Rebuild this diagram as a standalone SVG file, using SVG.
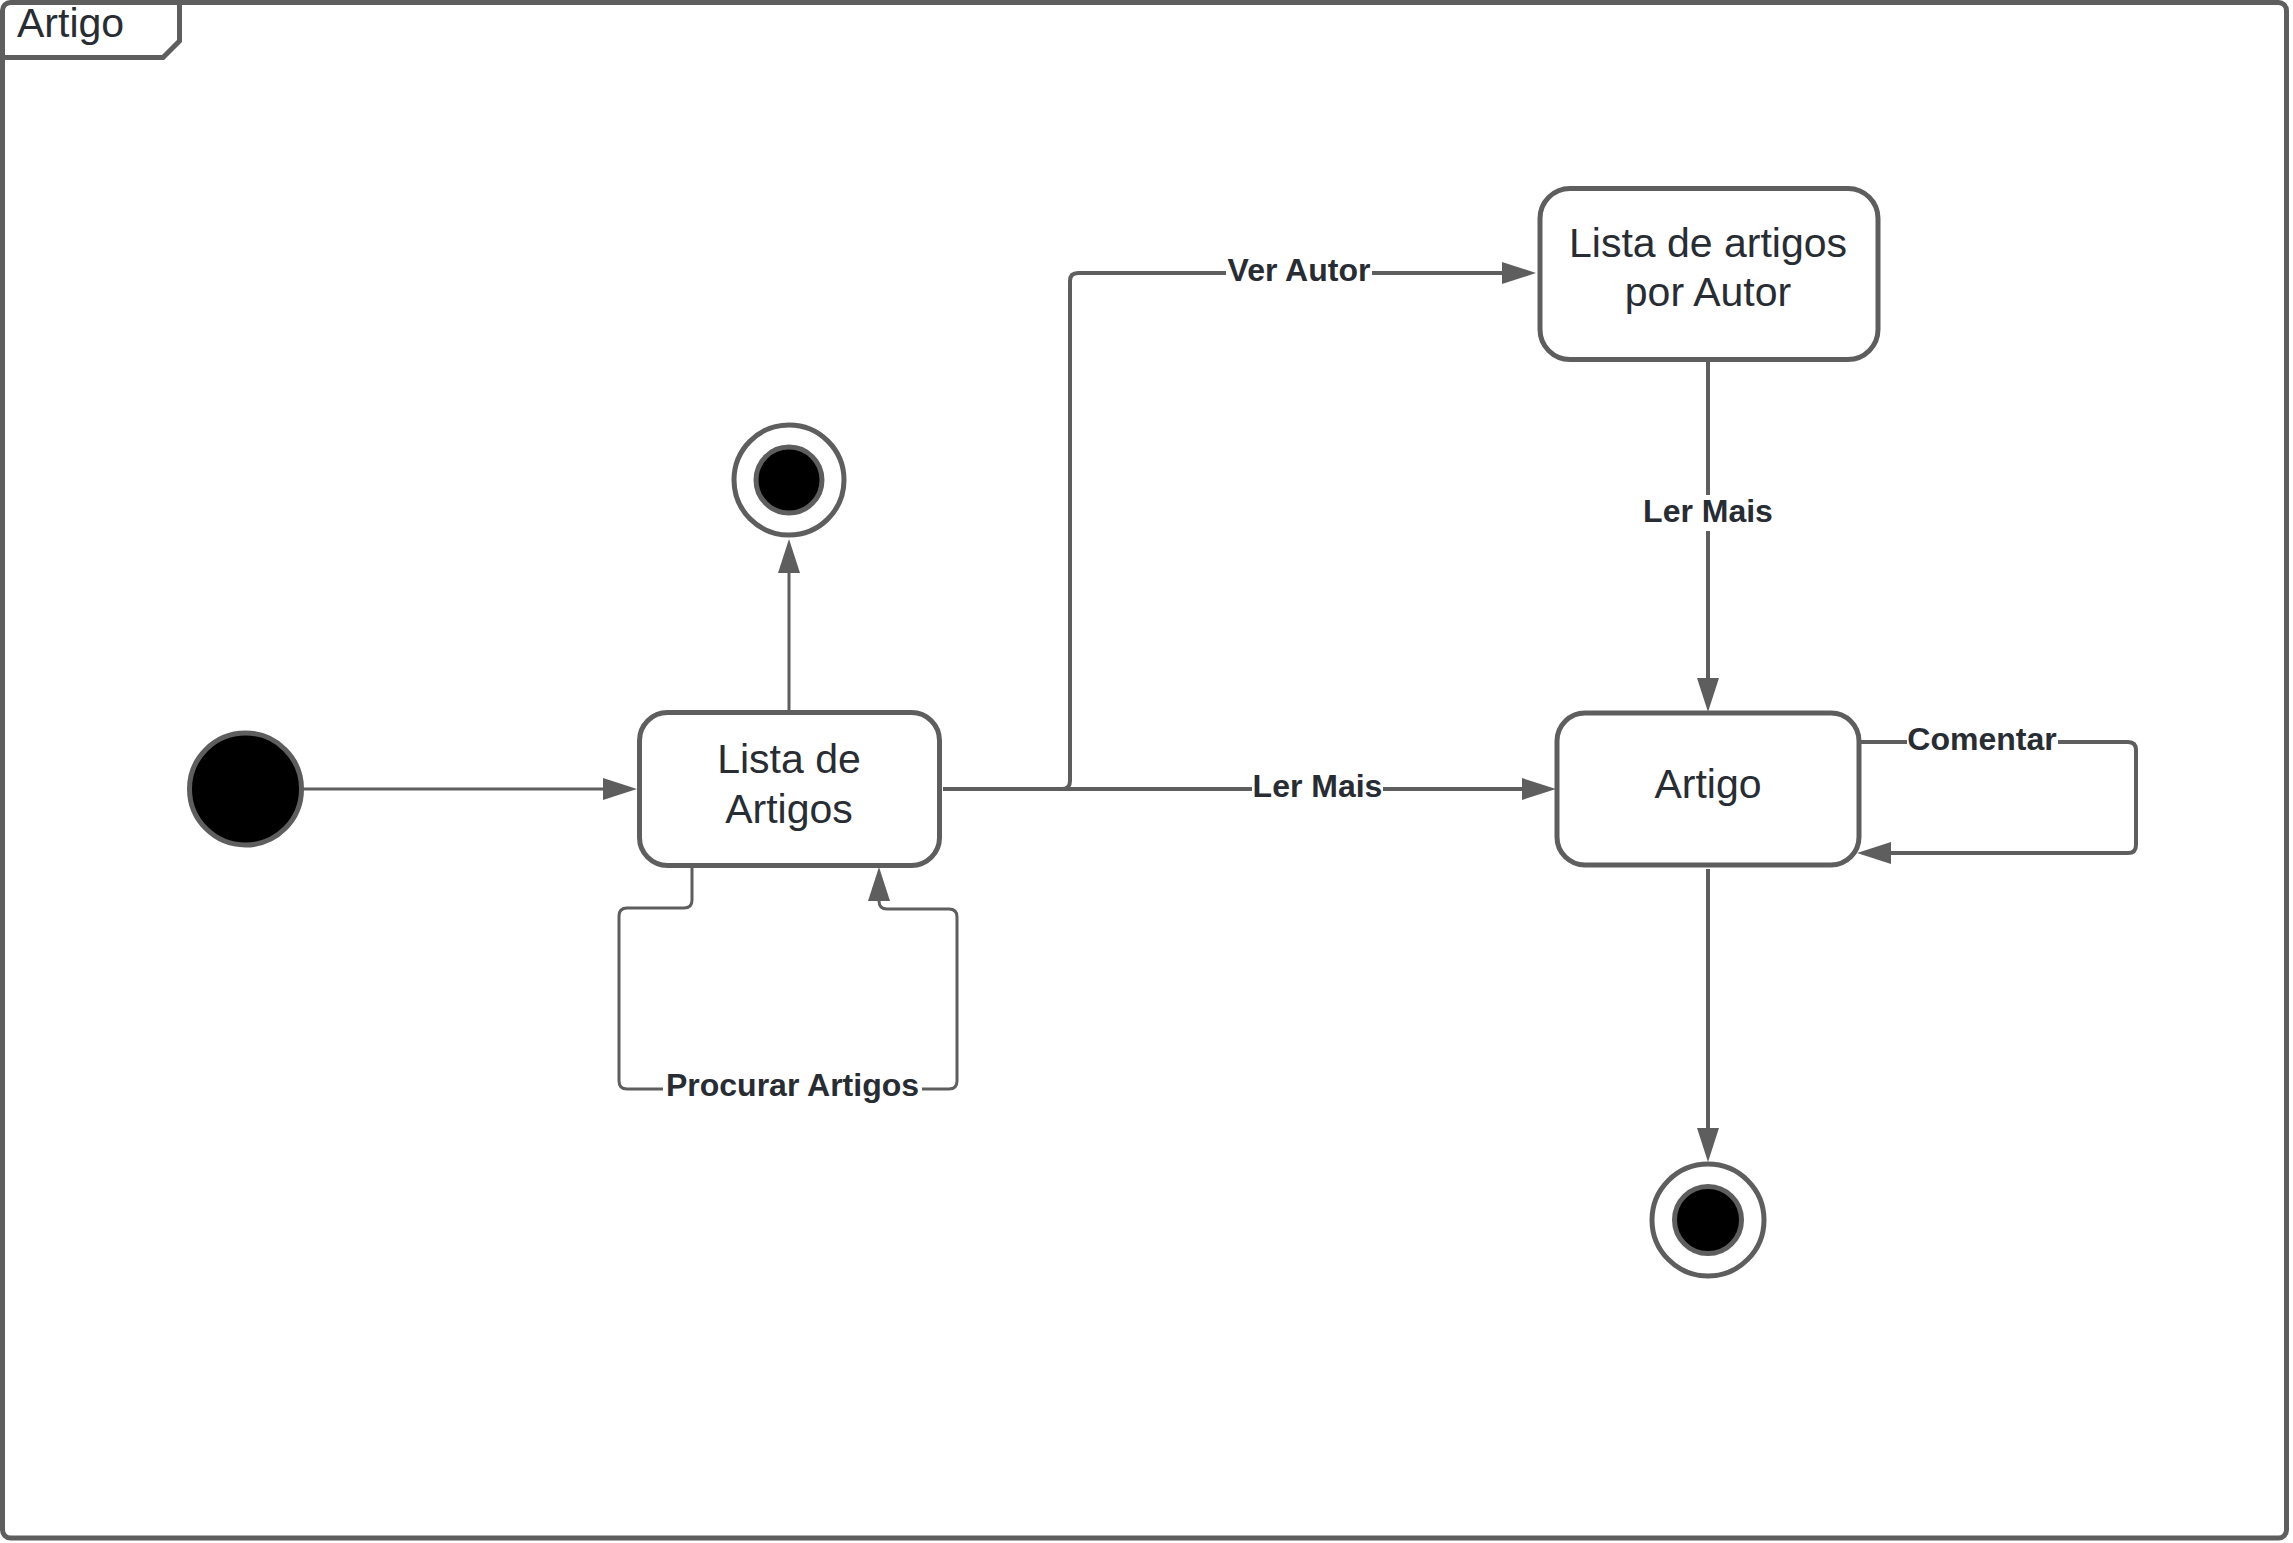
<svg xmlns="http://www.w3.org/2000/svg" width="2293" height="1543" viewBox="0 0 2293 1543">
<style>
.frame{fill:#ffffff;stroke:#5e5e5e;stroke-width:5}
.node{fill:#ffffff;stroke:#5e5e5e;stroke-width:5}
.ntext{font-family:"Liberation Sans",Arial,sans-serif;font-size:41px;fill:#282c33;text-anchor:middle}
.ttext{font-family:"Liberation Sans",Arial,sans-serif;font-size:41px;fill:#282c33}
.lbl{font-family:"Liberation Sans",Arial,sans-serif;font-size:32px;font-weight:bold;fill:#282c33;text-anchor:middle}
.edge{fill:none;stroke:#5e5e5e;stroke-width:4;marker-end:url(#arr)}
.thin{stroke-width:3}
.lblbg{fill:#ffffff}
</style>
<defs>
<marker id="arr" viewBox="0 0 34 22" refX="0" refY="11" markerWidth="34" markerHeight="22" markerUnits="userSpaceOnUse" orient="auto">
<path d="M0,0 L34,11 L0,22 z" fill="#5e5e5e"/>
</marker>
</defs>
<rect width="2293" height="1543" fill="#ffffff"/>
<g id="frame">
<rect class="frame" x="2.5" y="2.5" width="2284" height="1535.5" rx="8"/>
<path d="M3,57.5 L163,57.5 L179.5,41 L179.5,3" fill="none" stroke="#5e5e5e" stroke-width="5"/>
<text class="ttext" x="17" y="37">Artigo</text>
</g>
<g id="connectors">
<path class="edge thin" d="M303,789 L603,789"/>
<path class="edge thin" d="M789,712 L789,573"/>
<path class="edge" d="M943,789 L1062,789 Q1070,789 1070,781 L1070,281 Q1070,273 1078,273 L1502,273"/>
<path class="edge" d="M943,789 L1522,789"/>
<path class="edge" d="M1708,362 L1708,678"/>
<path class="edge" d="M1859,742 L2128,742 Q2136,742 2136,750 L2136,845 Q2136,853 2128,853 L1891,853"/>
<path class="edge thin" d="M692,868 L692,900 Q692,908 684,908 L627,908 Q619,908 619,916 L619,1081 Q619,1089 627,1089 L949,1089 Q957,1089 957,1081 L957,917 Q957,909 949,909 L887,909 Q879,909 879,901"/>
<path class="edge" d="M1708,869 L1708,1128"/>
<rect class="lblbg" x="1226" y="254" width="146" height="36"/>
<text class="lbl" x="1299" y="281">Ver Autor</text>
<rect class="lblbg" x="1252" y="770" width="131" height="36"/>
<text class="lbl" x="1317.5" y="797">Ler Mais</text>
<rect class="lblbg" x="1642" y="495" width="132" height="36"/>
<text class="lbl" x="1708" y="522">Ler Mais</text>
<rect class="lblbg" x="1907" y="723" width="151" height="36"/>
<text class="lbl" x="1982" y="750">Comentar</text>
<rect class="lblbg" x="663" y="1070" width="259" height="36"/>
<text class="lbl" x="792.5" y="1096">Procurar Artigos</text>
</g>
<g id="initial">
<circle cx="245.5" cy="789" r="56" fill="#000000" stroke="#5e5e5e" stroke-width="5"/>
</g>
<g id="lista-de-artigos">
<rect class="node" x="639.5" y="712.5" width="300" height="153" rx="28"/>
<text class="ntext" x="789" y="773">Lista de</text>
<text class="ntext" x="789" y="823">Artigos</text>
</g>
<g id="final-1">
<circle cx="789" cy="480" r="55" fill="#ffffff" stroke="#5e5e5e" stroke-width="5"/>
<circle cx="789" cy="480" r="33" fill="#000000" stroke="#5e5e5e" stroke-width="5"/>
</g>
<g id="lista-por-autor">
<rect class="node" x="1540" y="188.5" width="338" height="171" rx="30"/>
<text class="ntext" x="1708" y="257">Lista de artigos</text>
<text class="ntext" x="1708" y="306">por Autor</text>
</g>
<g id="artigo">
<rect class="node" x="1557" y="713" width="302" height="152" rx="28"/>
<text class="ntext" x="1708" y="798">Artigo</text>
</g>
<g id="final-2">
<circle cx="1708" cy="1220" r="56" fill="#ffffff" stroke="#5e5e5e" stroke-width="5"/>
<circle cx="1708" cy="1220" r="33.5" fill="#000000" stroke="#5e5e5e" stroke-width="5"/>
</g>
</svg>
